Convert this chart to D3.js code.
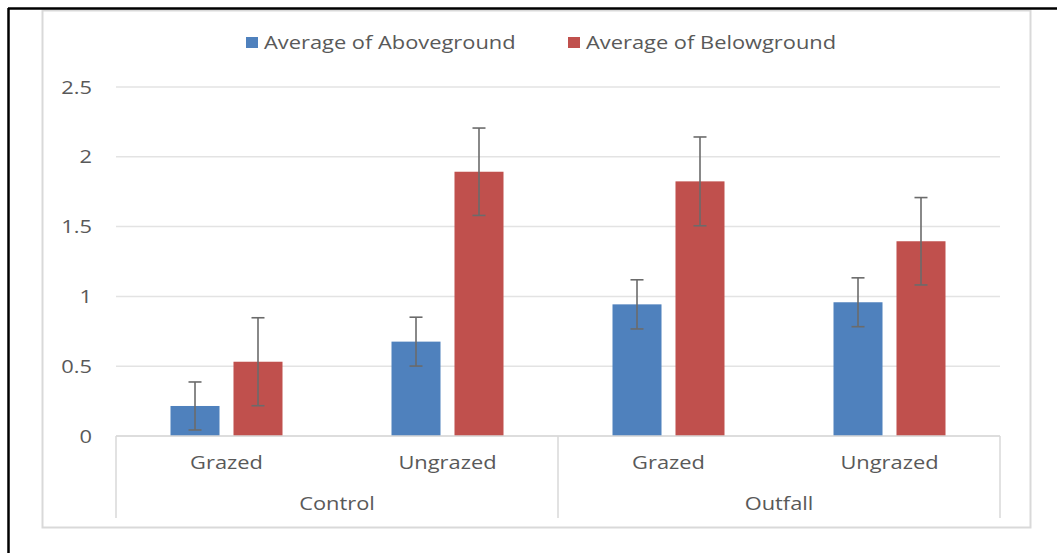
<!DOCTYPE html>
<html>
<head>
<meta charset="utf-8">
<script src="https://cdn.jsdelivr.net/npm/d3@7"></script>
<style>
  html, body { margin: 0; padding: 0; background: #fff; }
  svg { display: block; }
  text { font-family: "Open Sans", "Noto Sans", sans-serif; fill: #595959; }
</style>
</head>
<body>
<svg id="chart" width="1057" height="553"></svg>
<script>
const outerCategories = ["Control", "Outfall"];
const innerCategories = ["Grazed", "Ungrazed"];
const seriesNames = ["Average of Aboveground", "Average of Belowground"];
const aboveground = [0.215, 0.676, 0.943, 0.958];
const belowground = [0.532, 1.893, 1.824, 1.395];
const abovegroundErr = [0.172, 0.175, 0.176, 0.175];
const belowgroundErr = [0.315, 0.313, 0.318, 0.313];
const yTicks = [0, 0.5, 1, 1.5, 2, 2.5];
const seriesColors = ["#4f81bd", "#c0504d"];

const svg = d3.select("#chart");
const W = 1057, H = 553;
const plot = { left: 116, right: 1000, top: 87, bottom: 436 };
const FS = 19, SX = 1.15;

// place text with a slight horizontal stretch, as in the reference
function placeText(sel, fx, fy) {
  return sel.attr("transform", (d, i) => `translate(${fx(d, i)},${fy(d, i)}) scale(${SX},1)`)
    .attr("font-size", FS).attr("dy", "0.35em");
}

const cells = [];
outerCategories.forEach((o, oi) => innerCategories.forEach((c, ci) => {
  cells.push({ key: o + "|" + c, outer: o, inner: c, idx: oi * innerCategories.length + ci });
}));

const x0 = d3.scaleBand().domain(cells.map(d => d.key)).range([plot.left, plot.right]).padding(0);
const x1 = d3.scaleBand().domain(seriesNames).range([-56, 56]).paddingInner(0.222).paddingOuter(0);
const y = d3.scaleLinear().domain([0, 2.5]).range([plot.bottom, plot.top]);
const xOuter = d3.scaleBand().domain(outerCategories).range([plot.left, plot.right]).padding(0);

svg.append("rect").attr("width", W).attr("height", H).attr("fill", "#fff");

// chart area border
svg.append("rect").attr("x", 42.5).attr("y", 10.5).attr("width", 988).attr("height", 517)
  .attr("fill", "#fff").attr("stroke", "#d9d9d9").attr("stroke-width", 2);

// outer black frame lines (top and left)
svg.append("line").attr("x1", 8).attr("x2", W).attr("y1", 8.5).attr("y2", 8.5)
  .attr("stroke", "#000").attr("stroke-width", 2.5);
svg.append("line").attr("x1", 8.5).attr("x2", 8.5).attr("y1", 8).attr("y2", H)
  .attr("stroke", "#000").attr("stroke-width", 2.5);

// gridlines
svg.append("g").selectAll("line").data(yTicks).join("line")
  .attr("x1", plot.left).attr("x2", plot.right)
  .attr("y1", d => y(d)).attr("y2", d => y(d))
  .attr("stroke", "#e3e3e3").attr("stroke-width", 1.5);

// y labels
placeText(svg.append("g").selectAll("text").data(yTicks).join("text"), () => 92, d => y(d))
  .attr("text-anchor", "end")
  .text(d => d3.format("")(d));

// bars
const seriesData = [aboveground, belowground];
const seriesErr = [abovegroundErr, belowgroundErr];
seriesNames.forEach((s, si) => {
  svg.append("g").selectAll("rect").data(cells).join("rect")
    .attr("x", d => x0(d.key) + x0.bandwidth() / 2 + x1(s))
    .attr("width", x1.bandwidth())
    .attr("y", d => y(seriesData[si][d.idx]))
    .attr("height", d => y(0) - y(seriesData[si][d.idx]))
    .attr("fill", seriesColors[si]);
});

// error bars
seriesNames.forEach((s, si) => {
  const g = svg.append("g").attr("stroke", "#6b6b6b").attr("stroke-width", 1.6).attr("fill", "none");
  cells.forEach(d => {
    const cx = x0(d.key) + x0.bandwidth() / 2 + x1(s) + x1.bandwidth() / 2;
    const v = seriesData[si][d.idx], e = seriesErr[si][d.idx];
    const yt = y(v + e), yb = y(v - e);
    g.append("line").attr("x1", cx).attr("x2", cx).attr("y1", yt).attr("y2", yb);
    g.append("line").attr("x1", cx - 6.5).attr("x2", cx + 6.5).attr("y1", yt).attr("y2", yt);
    g.append("line").attr("x1", cx - 6.5).attr("x2", cx + 6.5).attr("y1", yb).attr("y2", yb);
  });
});

// category axis
const axisG = svg.append("g").attr("stroke", "#d9d9d9").attr("stroke-width", 1.5);
axisG.append("line").attr("x1", plot.left).attr("x2", plot.right)
  .attr("y1", y(0)).attr("y2", y(0));
const bounds = outerCategories.map(o => xOuter(o)).concat([plot.right]);
axisG.selectAll("line.sep").data(bounds).join("line").attr("class", "sep")
  .attr("x1", d => d).attr("x2", d => d).attr("y1", y(0)).attr("y2", 518);

placeText(svg.append("g").selectAll("text").data(cells).join("text"),
  d => x0(d.key) + x0.bandwidth() / 2, () => 462)
  .attr("text-anchor", "middle")
  .text(d => d.inner);

placeText(svg.append("g").selectAll("text").data(outerCategories).join("text"),
  d => xOuter(d) + xOuter.bandwidth() / 2, () => 503)
  .attr("text-anchor", "middle")
  .text(d => d);

// legend
const legendX = [246, 568];
const lg = svg.append("g");
seriesNames.forEach((s, i) => {
  lg.append("rect").attr("x", legendX[i]).attr("y", 37).attr("width", 12).attr("height", 11)
    .attr("fill", seriesColors[i]);
  placeText(lg.append("text").datum(s), () => legendX[i] + 18, () => 42.5).text(s);
});
</script>
</body>
</html>
